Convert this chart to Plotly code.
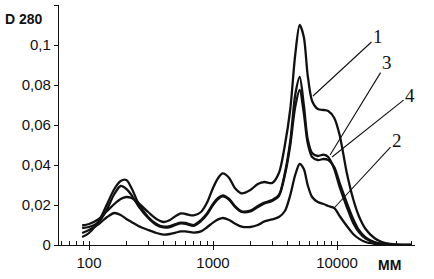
import math
import plotly.graph_objects as go

# Molecular mass (MM) grid
mm = [88, 100, 120, 140, 160, 180, 200, 220, 250, 300, 350, 400, 450, 500, 550, 600,
      700, 800, 900, 1000, 1100, 1200, 1350, 1500, 1700, 2000, 2300, 2600, 3000, 3400,
      3800, 4200, 4600, 5000, 5400, 5800, 6300, 7000, 7800, 8500, 9500, 10500, 12000,
      13500, 15000, 17000, 20000, 23000, 27000, 32000, 40000]

curve1 = [0.0098, 0.0105, 0.0130, 0.0170, 0.0205, 0.0230, 0.0240, 0.0235, 0.0210, 0.0165,
          0.0130, 0.0115, 0.0125, 0.0145, 0.0158, 0.0155, 0.0148, 0.0165, 0.0215, 0.0285,
          0.0335, 0.0358, 0.0335, 0.0285, 0.0258, 0.0275, 0.0305, 0.0315, 0.0310, 0.0360,
          0.0500, 0.0680, 0.0950, 0.1100, 0.1040, 0.0850, 0.0720, 0.0680, 0.0675, 0.0670,
          0.0635, 0.0550, 0.0360, 0.0230, 0.0145, 0.0080, 0.0035, 0.0015, 0.0005, 0.0001, 0.0]

curve2 = [0.0060, 0.0075, 0.0105, 0.0140, 0.0160, 0.0150, 0.0130, 0.0115, 0.0095, 0.0075,
          0.0060, 0.0052, 0.0055, 0.0062, 0.0068, 0.0068, 0.0062, 0.0068, 0.0090, 0.0112,
          0.0128, 0.0135, 0.0125, 0.0108, 0.0092, 0.0090, 0.0100, 0.0118, 0.0128, 0.0140,
          0.0170, 0.0250, 0.0350, 0.0405, 0.0380, 0.0300, 0.0240, 0.0215, 0.0205, 0.0195,
          0.0185, 0.0145, 0.0095, 0.0055, 0.0032, 0.0015, 0.0006, 0.0002, 0.0, 0.0, 0.0]

curve3 = [0.0040, 0.0060, 0.0120, 0.0205, 0.0280, 0.0320, 0.0325, 0.0285, 0.0210, 0.0140,
          0.0105, 0.0092, 0.0095, 0.0105, 0.0112, 0.0110, 0.0100, 0.0125, 0.0160, 0.0205,
          0.0235, 0.0248, 0.0230, 0.0195, 0.0168, 0.0172, 0.0195, 0.0212, 0.0225, 0.0250,
          0.0360, 0.0520, 0.0750, 0.0840, 0.0700, 0.0530, 0.0460, 0.0445, 0.0452, 0.0440,
          0.0380, 0.0290, 0.0190, 0.0110, 0.0065, 0.0032, 0.0013, 0.0005, 0.0001, 0.0, 0.0]

curve4 = [0.0085, 0.0090, 0.0115, 0.0180, 0.0255, 0.0295, 0.0280, 0.0250, 0.0195, 0.0135,
          0.0100, 0.0088, 0.0090, 0.0100, 0.0108, 0.0106, 0.0096, 0.0120, 0.0155, 0.0200,
          0.0230, 0.0243, 0.0226, 0.0192, 0.0165, 0.0168, 0.0190, 0.0208, 0.0220, 0.0245,
          0.0350, 0.0500, 0.0690, 0.0775, 0.0660, 0.0510, 0.0440, 0.0425, 0.0430, 0.0425,
          0.0390, 0.0310, 0.0210, 0.0130, 0.0075, 0.0038, 0.0015, 0.0006, 0.0002, 0.0, 0.0]

y_ticks = [0, 0.02, 0.04, 0.06, 0.08, 0.1, 0.12]
y_labels = ["0", "0,02", "0,04", "0,06", "0,08", "0,1", ""]
x_ticks = [100, 1000, 10000]
x_labels = ["100", "1000", "10000"]

# label name, anchor point on curve (MM, D), text offset in px
labels = [("1", 6400, 0.0745, 65, -60),
          ("3", 8790, 0.045, 57, -93),
          ("4", 9120, 0.044, 78, -62),
          ("2", 9640, 0.019, 62, -67)]

fig = go.Figure()
for ys in [curve2, curve4, curve3, curve1]:
    fig.add_trace(go.Scatter(x=mm, y=ys, mode="lines",
                             line=dict(color="#111111", width=2.3, shape="spline", smoothing=0.8),
                             showlegend=False, hoverinfo="skip"))

for name, lx, ly, ax, ay in labels:
    fig.add_annotation(x=math.log10(lx), y=ly, xref="x", yref="y", text=name, showarrow=True,
                       arrowhead=0, arrowwidth=1.1, arrowcolor="#111111", ax=ax, ay=ay,
                       font=dict(family="Liberation Serif", size=19, color="#111111"))

fig.add_annotation(x=0, y=0.113, xref="paper", yref="y", xanchor="right", xshift=-14,
                   text="<b>D 280</b>", showarrow=False,
                   font=dict(family="Liberation Sans", size=14, color="#111111"))
fig.add_annotation(x=0.966, y=-0.083, xref="paper", yref="paper", yanchor="middle",
                   text="<b>MM</b>", showarrow=False,
                   font=dict(family="Liberation Sans", size=14, color="#111111"))

fig.update_xaxes(type="log", range=[1.758, 4.629], tickvals=x_ticks, ticktext=x_labels,
                 showline=True, linecolor="#111111", linewidth=1.2, showgrid=False, zeroline=False,
                 ticks="outside", ticklen=4, tickcolor="#111111", tickwidth=1.2, automargin=False,
                 minor=dict(ticks="inside", ticklen=4, tickcolor="#111111", tickwidth=1, showgrid=False,
                            dtick="D1"),
                 tickfont=dict(family="Liberation Sans", size=15, color="#111111"))
fig.update_yaxes(range=[0, 0.12], tickvals=y_ticks, ticktext=y_labels, automargin=False,
                 showline=True, linecolor="#111111", linewidth=1.2, showgrid=False, zeroline=False,
                 ticks="outside", ticklen=4, tickcolor="#111111", tickwidth=1.2,
                 tickfont=dict(family="Liberation Sans", size=15, color="#111111"))

fig.update_layout(width=434, height=279, margin=dict(l=59, r=19, t=5, b=34),
                  paper_bgcolor="white", plot_bgcolor="white")

fig.write_html("out.html", config={"displayModeBar": False},
               post_script="document.body.style.margin='0';document.body.style.overflow='hidden';")
